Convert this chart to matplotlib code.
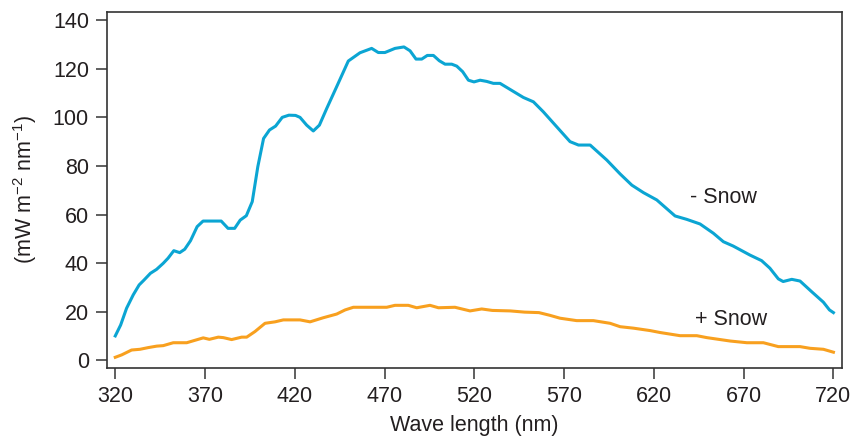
import numpy as np
import matplotlib
matplotlib.use("Agg")
import matplotlib.pyplot as plt

plt.rcParams['font.family'] = ['Liberation Sans', 'DejaVu Sans']
plt.rcParams['mathtext.fontset'] = 'custom'
plt.rcParams['mathtext.rm'] = 'Liberation Sans'
plt.rcParams['mathtext.it'] = 'Liberation Sans'
plt.rcParams['mathtext.default'] = 'regular'

# - Snow (blue)
wl_no_snow = [320, 323, 326.3, 330, 333.3, 336, 339.6, 343, 346.7, 349.4, 352.6, 355.9,
              358.7, 361.9, 365.6, 368.9, 379, 382.8, 386.5, 389.6, 393, 396.3, 399.4,
              402.6, 405.9, 409.3, 413, 416.7, 420.4, 422.9, 426.6, 430.3, 433.7, 437.8,
              443.3, 449.8, 456.3, 462.8, 466.5, 470.2, 475.8, 480.8, 484.2, 487.5, 490.7,
              493.8, 497.2, 500.5, 503.7, 507.4, 510.2, 513.5, 516.7, 519.8, 523.2, 526.9,
              530.6, 534.3, 539.9, 547.3, 552.9, 558.4, 565.9, 573.3, 578, 584.5, 593.8,
              601.2, 607.7, 614.2, 621.6, 631.8, 638.3, 645.7, 653.1, 658.7, 664.2, 673.5,
              680, 684.6, 689.3, 692, 696.8, 701.4, 707.9, 714.4, 717.8, 720]
val_no_snow = [10, 14.5, 21.4, 26.9, 31, 33, 35.8, 37.4, 39.9, 42, 45.1, 44.3,
               45.7, 49.2, 55, 57.3, 57.3, 54.3, 54.3, 57.7, 59.5, 65.3, 79.7,
               91.3, 94.8, 96.4, 100, 100.9, 100.8, 100, 96.8, 94.4, 96.8, 103.7,
               112.6, 123.2, 126.6, 128.4, 126.7, 126.7, 128.4, 129, 127.4, 124, 124,
               125.5, 125.5, 123.3, 121.9, 121.9, 121.1, 118.8, 115.3, 114.6, 115.3, 114.8,
               114, 114, 111.5, 108.2, 106.4, 102.3, 96.1, 90, 88.6, 88.6, 82.4,
               76.7, 72.1, 69, 66, 59.4, 58, 56.1, 52.3, 48.8, 47, 43.3,
               41, 37.9, 33.5, 32.4, 33.3, 32.6, 28.2, 23.9, 20.7, 19.6]

# + Snow (orange)
wl_snow = [320, 323.6, 329.1, 333.8, 338.4, 343.1, 346.7, 352.3, 359.8, 365.3, 369, 372.4,
           377.4, 380.2, 384.8, 390.4, 393.2, 397.8, 403.4, 409, 413.6, 422.9, 428.5,
           435.9, 443.3, 448, 452.6, 471.2, 475.8, 483.2, 487.9, 495.3, 500, 509.2,
           517.6, 524.1, 530, 540, 548, 556, 562, 567.7, 577, 586.3, 595.6, 601.2,
           608.6, 617.9, 623.5, 634.6, 643.9, 649.5, 662.5, 671.8, 681, 689.3, 701.4,
           707, 714.4, 720]
val_snow = [1.2, 2.2, 4.2, 4.5, 5.2, 5.8, 6, 7.2, 7.2, 8.4, 9.2, 8.6,
            9.5, 9.3, 8.5, 9.5, 9.5, 11.8, 15.2, 15.8, 16.6, 16.6, 15.8,
            17.5, 19, 20.7, 21.8, 21.8, 22.6, 22.6, 21.6, 22.6, 21.6, 21.8,
            20.3, 21.1, 20.5, 20.3, 19.8, 19.6, 18.5, 17.3, 16.3, 16.3, 15.2, 13.8,
            13.2, 12.2, 11.4, 10.1, 10.1, 9.3, 7.9, 7.2, 7.2, 5.6, 5.6,
            4.9, 4.5, 3.3]

xticks = [320, 370, 420, 470, 520, 570, 620, 670, 720]
yticks = [0, 20, 40, 60, 80, 100, 120, 140]

txt = '#231f20'
fs = 15.5
fig = plt.figure(figsize=(8.54, 4.36), dpi=100)
ax = fig.add_axes([0.1253, 0.156, 0.8607, 0.816])

ax.plot(wl_no_snow, val_no_snow, color='#0ba5d3', lw=2.2, solid_joinstyle='round')
ax.plot(wl_snow, val_snow, color='#f8a01f', lw=2.2, solid_joinstyle='round')

ax.text(640, 66.8, '- Snow', fontsize=fs, color=txt, va='center', ha='left')
ax.text(643, 16.6, '+ Snow', fontsize=fs, color=txt, va='center', ha='left')

ax.set_xlim(315.4, 724.8)
ax.set_ylim(-3.2, 143.3)
ax.set_xticks(xticks)
ax.set_yticks(yticks)
ax.tick_params(direction='out', length=8, width=1.2, colors='#444444',
               labelcolor=txt, labelsize=fs, pad=5)
for s in ax.spines.values():
    s.set_linewidth(1.2)
    s.set_color('#333333')

ax.set_xlabel('Wave length (nm)', fontsize=fs, color=txt, labelpad=6)
ax.set_ylabel('(mW m$^{-2}$ nm$^{-1}$)', fontsize=fs, color=txt, labelpad=10)

fig.savefig('out.png', dpi=100)
